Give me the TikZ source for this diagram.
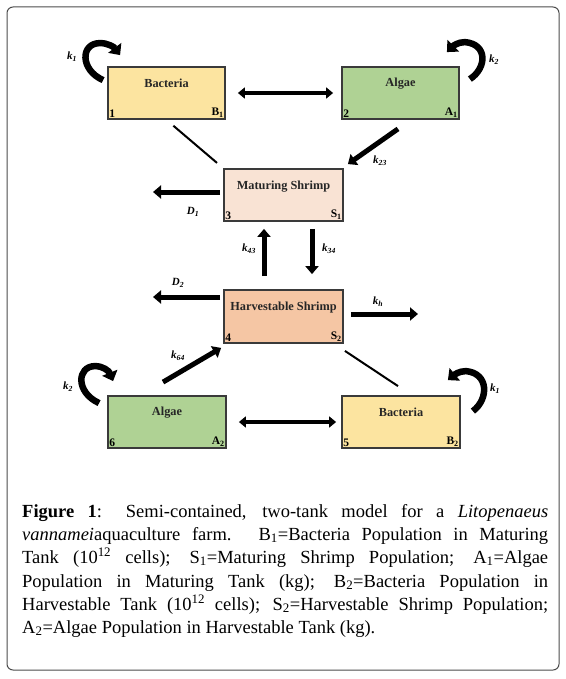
\documentclass[tikz,border=0pt]{standalone}
\usepackage{fontspec}
\setmainfont{Liberation Serif}
\usetikzlibrary{arrows.meta,calc}
\definecolor{bact}{HTML}{FCE4A0}
\definecolor{alg}{HTML}{AFD294}
\definecolor{matur}{HTML}{F9E3D4}
\definecolor{harv}{HTML}{F5C6A4}
\definecolor{boxline}{HTML}{3A3A3A}
\begin{document}
\begin{tikzpicture}[x=1pt,y=-1pt,
 box/.style={draw=boxline, line width=1.8pt, minimum width=117pt, minimum height=52pt, inner sep=0pt},
 ttl/.style={font=\fontsize{12.3}{14}\selectfont\bfseries, text=black!85, inner sep=0pt},
 num/.style={font=\fontsize{11.5}{13}\selectfont\bfseries, inner sep=2pt},
 klab/.style={font=\fontsize{11}{12}\selectfont\bfseries\itshape, inner sep=0pt},
 bigarrow/.style={line width=5pt, -{Triangle[width=13pt,length=8pt]}},
 dblarrow/.style={line width=3.5pt, {Triangle[width=11pt,length=7pt]}-{Triangle[width=11pt,length=7pt]}},
 plainline/.style={line width=2pt},
 loopy/.style={line width=6.5pt, -{Triangle[width=16pt,length=9pt]}},
 captxt/.style={font=\fontsize{18.5}{23}\selectfont, anchor=base west, inner sep=0pt},
]
\useasboundingbox (0,0) rectangle (565,679);
\draw[rounded corners=6pt, line width=1pt, draw=black!70] (7,7) rectangle (559,670);

% boxes
\node[box, fill=bact] (b1) at (166.5,93) {};
\node[box, fill=alg] (a2) at (400.5,93) {};
\node[box, fill=matur, minimum width=119pt] (m) at (283.5,195) {};
\node[box, fill=harv, minimum width=119pt, minimum height=53pt] (h) at (283.5,316.5) {};
\node[box, fill=alg, minimum width=118pt] (a6) at (167,422) {};
\node[box, fill=bact, minimum width=118pt] (b5) at (401,422) {};

% titles
\node[ttl] (tb1) at ($(b1.north)+(0,17)$) {Bacteria};
\node[ttl] (ta2) at ($(a2.north)+(0,17)$) {Algae};
\node[ttl] (tm) at ($(m.north)+(0,18)$) {Maturing Shrimp};
\node[ttl] (th) at ($(h.north)+(0,18)$) {Harvestable Shrimp};
\node[ttl] (ta6) at ($(a6.north)+(0,17)$) {Algae};
\node[ttl] (tb5) at ($(b5.north)+(0,17)$) {Bacteria};

% corner labels
\node[num, anchor=south west] (n1) at (b1.south west) {1};
\node[num, anchor=south east] (s1) at (b1.south east) {B\textsubscript{1}};
\node[num, anchor=south west] (n2) at (a2.south west) {2};
\node[num, anchor=south east] (s2) at (a2.south east) {A\textsubscript{1}};
\node[num, anchor=south west] (n3) at (m.south west) {3};
\node[num, anchor=south east] (s3) at (m.south east) {S\textsubscript{1}};
\node[num, anchor=south west] (n4) at (h.south west) {4};
\node[num, anchor=south east] (s4) at (h.south east) {S\textsubscript{2}};
\node[num, anchor=south west] (n6) at (a6.south west) {6};
\node[num, anchor=south east] (s6) at (a6.south east) {A\textsubscript{2}};
\node[num, anchor=south west] (n5) at (b5.south west) {5};
\node[num, anchor=south east] (s5) at (b5.south east) {B\textsubscript{2}};

% connectors
\draw[dblarrow, shorten <=12pt, shorten >=8pt] (b1.east) -- (a2.west);
\draw[dblarrow, shorten <=12pt, shorten >=5pt] (a6.east) -- (b5.west);
\draw[plainline, shorten <=9pt, shorten >=8pt] (b1.south) -- (m.north west);
\draw[bigarrow] ($(a2.south)+(-2.5,9)$) -- ($(m.north east)+(4,-4)$);
\coordinate (d1end) at (153,192);
\draw[bigarrow] ($(m.west)+(-3,-3)$) -- (d1end);
\draw[bigarrow] ($(h.north)+(-19.5,-13)$) -- ($(m.south)+(-19.5,7)$);
\draw[bigarrow] ($(m.south)+(28.5,7)$) -- ($(h.north)+(28.5,-15)$);
\coordinate (d2end) at (153,297);
\draw[bigarrow] ($(h.west)+(-3,-19.5)$) -- (d2end);
\coordinate (khend) at (418,314);
\draw[bigarrow] ($(h.east)+(7,-2.5)$) -- (khend);
\draw[plainline] ($(h.south east)+(1,7)$) -- ($(b5.north)+(-3,-9)$);
\draw[bigarrow] ($(a6.north)+(-4,-13)$) -- ($(h.south west)+(-2,4)$);

% self loops
\draw[loopy] ($(b1.north west)+(-4,14)$) .. controls ($(b1.north west)+(-27,4)$) and ($(b1.north west)+(-27,-23)$) .. ($(b1.north west)+(-7,-23)$) .. controls ($(b1.north west)+(1,-23)$) and ($(b1.north west)+(7,-19)$) .. ($(b1.north west)+(13,-11)$);
\draw[loopy] ($(a2.north east)+(10,13)$) .. controls ($(a2.north east)+(27,2)$) and ($(a2.north east)+(28,-22)$) .. ($(a2.north east)+(5,-24)$) .. controls ($(a2.north east)+(-2,-24)$) and ($(a2.north east)+(-7,-20)$) .. ($(a2.north east)+(-13,-14)$);
\draw[loopy] ($(b5.north east)+(12,16)$) .. controls ($(b5.north east)+(28,4)$) and ($(b5.north east)+(28,-22)$) .. ($(b5.north east)+(5,-24)$) .. controls ($(b5.north east)+(-2,-24)$) and ($(b5.north east)+(-7,-20)$) .. ($(b5.north east)+(-13,-15)$);
\draw[loopy] ($(a6.north west)+(-8,8)$) .. controls ($(a6.north west)+(-32,-3)$) and ($(a6.north west)+(-30,-29)$) .. ($(a6.north west)+(-12,-29)$) .. controls ($(a6.north west)+(-4,-29)$) and ($(a6.north west)+(2,-24)$) .. ($(a6.north west)+(6,-14)$);

% k labels
\node[klab] (lk1a) at (72,57) {k\textsubscript{1}};
\node[klab] (lk2a) at (494,60) {k\textsubscript{2}};
\node[klab] (lk23) at (380,161) {k\textsubscript{23}};
\node[klab] (ld1) at (193,212) {D\textsubscript{1}};
\node[klab] (lk43) at (249,249) {k\textsubscript{43}};
\node[klab] (lk34) at (329,249) {k\textsubscript{34}};
\node[klab] (ld2) at (178,283) {D\textsubscript{2}};
\node[klab] (lkh) at (378,302) {k\textsubscript{h}};
\node[klab] (lk64) at (178,356) {k\textsubscript{64}};
\node[klab] (lk2b) at (68,387) {k\textsubscript{2}};
\node[klab] (lk1b) at (495,389) {k\textsubscript{1}};

% caption
\node[captxt] (c1) at (22,517) {\makebox[526pt][s]{\textbf{Figure 1}: Semi-contained, two-tank model for a \textit{Litopenaeus}}};
\node[captxt] (c2) at (22,540) {\makebox[526pt][s]{\textit{vannamei}aquaculture farm. B\textsubscript{1}=Bacteria Population in Maturing}};
\node[captxt] (c3) at (22,563) {\makebox[526pt][s]{Tank (10\textsuperscript{12} cells); S\textsubscript{1}=Maturing Shrimp Population; A\textsubscript{1}=Algae}};
\node[captxt] (c4) at (22,587) {\makebox[526pt][s]{Population in Maturing Tank (kg); B\textsubscript{2}=Bacteria Population in}};
\node[captxt] (c5) at (22,610) {\makebox[526pt][s]{Harvestable Tank (10\textsuperscript{12} cells); S\textsubscript{2}=Harvestable Shrimp Population;}};
\node[captxt] (c6) at (22,633) {A\textsubscript{2}=Algae Population in Harvestable Tank (kg).};
\end{tikzpicture}
\end{document}
